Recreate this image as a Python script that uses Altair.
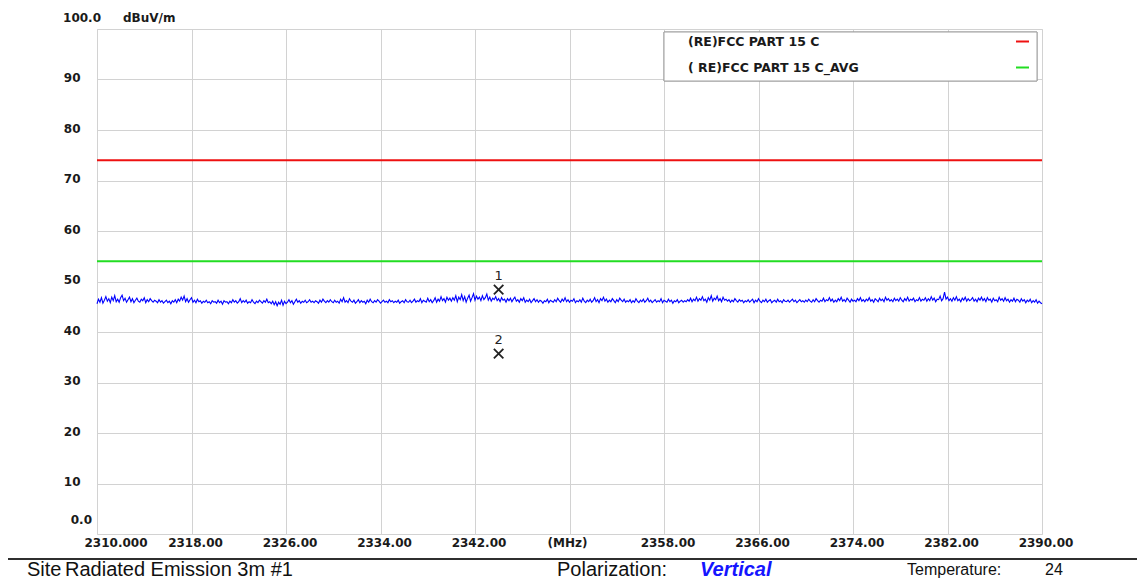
import altair as alt
import pandas as pd

# ---------------- data ----------------
freq_start = 2310.0
freq_step = 0.125
trace_levels = [
    45.6, 46.5, 45.9, 46.8, 45.7, 46.3, 47.0, 46.1, 46.6, 45.8, 46.9, 46.2, 47.2, 46.0, 46.5, 45.9, 46.8, 47.3, 46.2, 46.7,
    45.9, 46.4, 46.9, 46.0, 46.6, 45.8, 46.3, 46.7, 46.1, 45.9, 46.5, 46.2, 46.8, 45.8, 46.4, 46.0, 46.6, 46.2, 45.9, 46.3,
    46.1, 45.8, 46.4, 45.9, 46.2, 45.7, 46.0, 46.3, 45.8, 46.1, 45.6, 46.2, 45.9, 46.4, 45.8, 46.5, 46.1, 46.9, 46.3, 47.1,
    46.0, 46.6, 45.9, 46.4, 46.8, 45.9, 46.3, 45.8, 46.5, 46.0, 46.2, 45.7, 46.1, 45.9, 46.3, 45.8, 46.0, 45.6, 46.2, 45.9,
    46.0, 45.7, 46.3, 45.8, 46.1, 45.5, 46.2, 45.9, 46.0, 45.6, 46.1, 45.8, 46.4, 45.9, 46.2, 45.7, 46.0, 46.6, 45.8, 46.2,
    45.9, 46.3, 45.7, 46.0, 45.8, 46.4, 45.9, 45.6, 46.1, 45.8, 46.3, 46.0, 45.7, 46.2, 45.9, 46.5, 45.8, 46.0, 45.6, 46.1,
    45.4, 46.0, 45.2, 45.9, 45.5, 46.3, 45.3, 46.1, 45.6, 45.9, 46.4, 45.8, 46.2, 45.5, 46.0, 46.5, 45.9, 46.2, 45.7, 46.1,
    45.9, 46.3, 45.8, 46.0, 46.4, 45.9, 46.1, 45.8, 46.2, 46.0, 45.7, 46.3, 45.9, 46.5, 46.1, 45.8, 46.2, 45.9, 46.4, 46.0,
    45.8, 46.3, 45.9, 46.1, 45.7, 46.5, 46.0, 46.8, 45.9, 46.2, 45.8, 46.6, 46.1, 45.9, 46.3, 45.7, 46.0, 46.4, 45.8, 46.2,
    45.9, 46.1, 45.6, 46.3, 45.9, 46.5, 46.0, 45.8, 46.2, 45.9, 46.4, 46.1, 45.7, 46.0, 46.3, 45.9, 46.1, 45.8, 46.4, 46.0,
    46.2, 45.8, 46.1, 45.9, 46.3, 45.7, 46.0, 46.2, 45.8, 46.4, 46.0, 45.9, 46.3, 45.8, 46.1, 46.5, 45.9, 46.2, 46.0, 46.6,
    45.8, 46.3, 46.1, 45.9, 46.7, 46.0, 46.4, 45.8, 46.2, 46.8, 45.9, 46.5, 46.1, 47.0, 46.2, 46.6, 45.9, 46.9, 46.3, 46.7,
    46.1, 46.8, 46.3, 47.2, 46.0, 46.9, 46.4, 47.4, 46.2, 47.0, 45.9, 46.7, 47.3, 46.1, 46.8, 47.6, 46.3, 47.1, 46.5, 46.9,
    46.2, 47.2, 46.4, 46.8, 47.5, 46.3, 46.9, 46.1, 46.7, 46.4, 47.0, 46.2, 46.6, 46.0, 46.8, 46.3, 46.5, 45.9, 46.6, 46.2,
    46.7, 46.0, 46.5, 46.9, 46.1, 46.4, 45.9, 46.6, 46.2, 46.8, 45.9, 46.3, 46.0, 46.5, 45.8, 46.2, 46.6, 46.0, 46.4, 45.9,
    46.3, 46.1, 45.7, 46.2, 46.0, 46.5, 45.8, 46.3, 46.1, 45.9, 46.4, 46.0, 46.7, 46.2, 45.9, 46.5, 46.1, 46.8, 46.0, 46.4,
    45.9, 46.3, 46.1, 46.6, 45.8, 46.2, 46.0, 46.4, 45.9, 46.7, 46.1, 45.8, 46.3, 46.0, 46.5, 45.9, 46.2, 46.8, 46.0, 46.4,
    45.8, 46.6, 46.2, 46.9, 46.1, 46.5, 45.9, 46.3, 46.0, 46.6, 46.2, 45.8, 46.4, 46.0, 46.7, 46.3, 46.0, 46.5, 45.9, 46.2,
    46.0, 46.4, 45.8, 46.2, 45.9, 46.6, 46.1, 45.8, 46.3, 46.0, 46.5, 45.9, 46.2, 46.7, 46.0, 46.3, 45.8, 46.1, 46.4, 45.9,
    46.2, 46.0, 46.6, 45.8, 46.3, 46.1, 45.9, 46.5, 46.0, 46.3, 45.7, 46.2, 46.0, 46.4, 45.8, 46.1, 46.3, 45.9, 46.2, 46.0,
    46.4, 46.1, 46.7, 46.0, 46.5, 46.2, 46.9, 46.1, 46.6, 46.3, 47.0, 46.2, 46.5, 45.9, 46.8, 46.3, 47.2, 46.1, 46.7, 46.4,
    47.1, 46.2, 46.6, 46.0, 46.9, 46.3, 46.5, 46.1, 46.4, 45.9, 46.3, 46.0, 46.6, 46.2, 45.9, 46.4, 46.1, 46.3, 45.8, 46.2,
    46.0, 46.4, 45.9, 46.2, 46.5, 45.8, 46.3, 46.0, 46.6, 46.1, 45.8, 46.3, 46.0, 46.5, 45.9, 46.2, 46.4, 45.8, 46.1, 46.3,
    45.9, 46.5, 46.0, 46.2, 45.8, 46.4, 46.1, 46.0, 46.3, 45.9, 46.2, 46.5, 46.0, 46.3, 45.8, 46.1, 46.4, 46.0, 46.2, 45.9,
    46.3, 46.0, 46.5, 46.1, 45.9, 46.4, 46.0, 46.6, 46.2, 45.9, 46.3, 46.1, 46.7, 46.0, 46.4, 46.2, 46.8, 46.1, 46.5, 45.9,
    46.3, 46.0, 46.6, 46.2, 46.9, 46.1, 46.4, 46.0, 46.7, 46.3, 45.9, 46.5, 46.1, 46.3, 46.0, 46.6, 46.2, 46.8, 46.1, 46.4,
    46.0, 46.5, 46.2, 46.8, 46.1, 46.4, 45.9, 46.6, 46.3, 46.0, 46.7, 46.2, 46.5, 46.0, 46.9, 46.3, 46.6, 46.1, 46.4, 46.0,
    46.7, 46.2, 46.5, 46.1, 46.8, 46.3, 46.0, 46.6, 46.2, 46.9, 46.1, 46.5, 46.3, 46.7, 46.0, 46.4, 46.2, 46.8, 46.1, 46.5,
    46.3, 46.8, 46.1, 46.6, 46.2, 47.0, 46.3, 46.7, 46.0, 46.5, 46.4, 47.1, 46.2, 46.6, 47.9, 46.5, 46.9, 46.2, 46.6, 46.1,
    46.8, 46.3, 47.0, 46.2, 46.5, 46.0, 46.7, 46.3, 46.9, 46.1, 46.6, 46.2, 46.4, 46.8, 46.1, 46.5, 46.0, 46.7, 46.3, 46.9,
    46.2, 46.6, 46.0, 46.8, 46.3, 46.5, 45.9, 46.7, 46.2, 46.4, 46.0, 46.9, 46.3, 46.6, 46.1, 46.8, 46.2, 46.5, 45.9, 46.4,
    46.1, 46.7, 46.0, 46.5, 46.3, 45.9, 46.6, 46.1, 46.4, 45.8, 46.3, 46.0, 46.5, 45.8, 46.2, 45.9, 46.4, 45.7, 46.1, 45.8,
    45.6,
]
trace_freqs = [freq_start + i * freq_step for i in range(len(trace_levels))]

limit_names = ["(RE)FCC PART 15 C", "( RE)FCC PART 15 C_AVG"]
limit_levels = [74.0, 54.0]
limit_colors = ["#ee1111", "#22dd22"]

marker_ids = ["1", "2"]
marker_freqs = [2344.0, 2344.0]
marker_levels = [48.4, 35.7]

x_ticks = [2310, 2318, 2326, 2334, 2342, 2350, 2358, 2366, 2374, 2382, 2390]
x_tick_labels = ["2310.000", "2318.00", "2326.00", "2334.00", "2342.00", "(MHz)",
                 "2358.00", "2366.00", "2374.00", "2382.00", "2390.00"]
y_ticks = [0, 10, 20, 30, 40, 50, 60, 70, 80, 90, 100]

# ---------------- tables ----------------
trace_df = pd.DataFrame({"freq": trace_freqs, "level": trace_levels})
limit_df = pd.DataFrame({"name": limit_names, "level": limit_levels, "color": limit_colors})
marker_df = pd.DataFrame({"id": marker_ids, "freq": marker_freqs, "level": marker_levels})
xlab_df = pd.DataFrame({"tick": x_ticks, "label": x_tick_labels})

W, H = 945, 505
LABEL_FONT = "DejaVu Sans"
INK = "#1a1a1a"

xscale = alt.Scale(domain=[2310, 2390], nice=False, zero=False)
yscale = alt.Scale(domain=[0, 100], nice=False)

x_enc = alt.X("freq:Q", scale=xscale,
              axis=alt.Axis(values=x_ticks, labels=False, ticks=False, domain=False,
                            title=None, grid=True, gridColor="#d2d2d2", gridWidth=1))
y_enc = alt.Y("level:Q", scale=yscale,
              axis=alt.Axis(values=y_ticks, ticks=False, domain=False, title=None, grid=True,
                            gridColor="#d2d2d2", gridWidth=1,
                            labelExpr="datum.value == 0 || datum.value == 100 ? '' : datum.label",
                            labelFont=LABEL_FONT, labelFontWeight="bold", labelFontSize=12,
                            labelColor=INK, labelPadding=17, labelOffset=-2))

trace = alt.Chart(trace_df).mark_line(color="#0000ff", strokeWidth=1.1).encode(x=x_enc, y=y_enc)

limits = alt.Chart(limit_df).mark_rule(strokeWidth=2).encode(
    y=alt.Y("level:Q", scale=yscale),
    color=alt.Color("color:N", scale=None),
)

marker_x = alt.Chart(marker_df).mark_point(
    shape="M-1,-1L1,1M-1,1L1,-1", filled=False, color="#222222", strokeWidth=1.8, size=90, opacity=1
).encode(x=alt.X("freq:Q", scale=xscale), y=alt.Y("level:Q", scale=yscale))

marker_num = alt.Chart(marker_df).mark_text(
    font=LABEL_FONT, fontSize=13, color="#222222", dy=-14, baseline="middle"
).encode(x=alt.X("freq:Q", scale=xscale), y=alt.Y("level:Q", scale=yscale), text="id:N")

# x tick labels (drawn as text under the plot)
def xlabels(flt, dx):
    return alt.Chart(xlab_df).transform_filter(flt).mark_text(
        font=LABEL_FONT, fontWeight="bold", fontSize=12, color=INK, baseline="middle", dx=dx
    ).encode(x=alt.X("tick:Q", scale=xscale), y=alt.value(H + 9), text="label:N")

xlab_main = xlabels("datum.tick != 2310 && datum.tick != 2350", 4)
xlab_first = xlabels("datum.tick == 2310", 19)
xlab_unit = xlabels("datum.tick == 2350", -2)

# y end labels
yend_df = pd.DataFrame({"freq": [2310, 2310, 2310], "level": [0, 100, 100],
                        "label": ["0.0", "100.0", "dBuV/m"]})

def yend(lbl, align, dx, dy):
    return alt.Chart(yend_df).transform_filter(f"datum.label == '{lbl}'").mark_text(
        font=LABEL_FONT, fontWeight="bold", fontSize=12, color=INK, align=align,
        baseline="middle", dx=dx, dy=dy).encode(
        x=alt.X("freq:Q", scale=xscale), y=alt.Y("level:Q", scale=yscale), text="label:N")

y0 = yend("0.0", "right", -5, -14)
y100 = yend("100.0", "right", 4, -11)
yunit = yend("dBuV/m", "left", 26, -11)

# legend box
legend_box = alt.Chart(limit_df).mark_rect(fill="white", stroke="#a0a0a0", strokeWidth=1).encode(
    x=alt.value(567), x2=alt.value(940), y=alt.value(3), y2=alt.value(52))
legend_rows = [12.5, 38.5]
legend_layers = []
for i, nm in enumerate(limit_names):
    row_df = limit_df[limit_df["name"] == nm]
    legend_layers.append(alt.Chart(row_df).mark_text(
        font=LABEL_FONT, fontWeight="bold", fontSize=12.5, color=INK, align="left", baseline="middle"
    ).encode(x=alt.value(591), y=alt.value(legend_rows[i]), text="name:N"))
    legend_layers.append(alt.Chart(row_df).mark_rule(strokeWidth=2, color=limit_colors[i]).encode(
        x=alt.value(919), x2=alt.value(932), y=alt.value(legend_rows[i])))

# footer
footer_rule = alt.Chart(limit_df).mark_rule(color="#222222", strokeWidth=1.5).encode(
    x=alt.value(-92), x2=alt.value(1040), y=alt.value(530))

def footer_text(txt, xpos, ypos, size, **kw):
    return alt.Chart(pd.DataFrame({"t": [txt]})).mark_text(
        font="Liberation Sans", fontSize=size, align="left", baseline="alphabetic", **kw
    ).encode(x=alt.value(xpos), y=alt.value(ypos), text="t:N")

f1 = footer_text("Site", 27 - 97, 547, 20, color="#111111")
f2 = footer_text("Radiated Emission 3m #1", 65 - 97, 547, 20, color="#111111")
f3 = footer_text("Polarization:", 557 - 97, 547, 20, color="#111111")
f4 = footer_text("Vertical", 700 - 97, 547, 20, color="#1515ff", fontWeight="bold", fontStyle="italic")
f5 = footer_text("Temperature:", 907 - 97, 546, 16, color="#111111")
f6 = footer_text("24", 1045 - 97, 546, 16, color="#111111")

chart = alt.layer(
    trace, limits, marker_x, marker_num,
    xlab_main, xlab_first, xlab_unit, y0, y100, yunit,
    legend_box, *legend_layers,
    footer_rule, f1, f2, f3, f4, f5, f6,
).properties(
    width=W, height=H,
    autosize=alt.AutoSizeParams(type="none"),
    padding={"left": 89, "top": 21, "right": 95, "bottom": 48},
).configure_view(stroke="#8a8a8a", strokeWidth=2.5).configure(background="white")

chart.save("out.html", embed_options={"renderer": "svg", "actions": False})
